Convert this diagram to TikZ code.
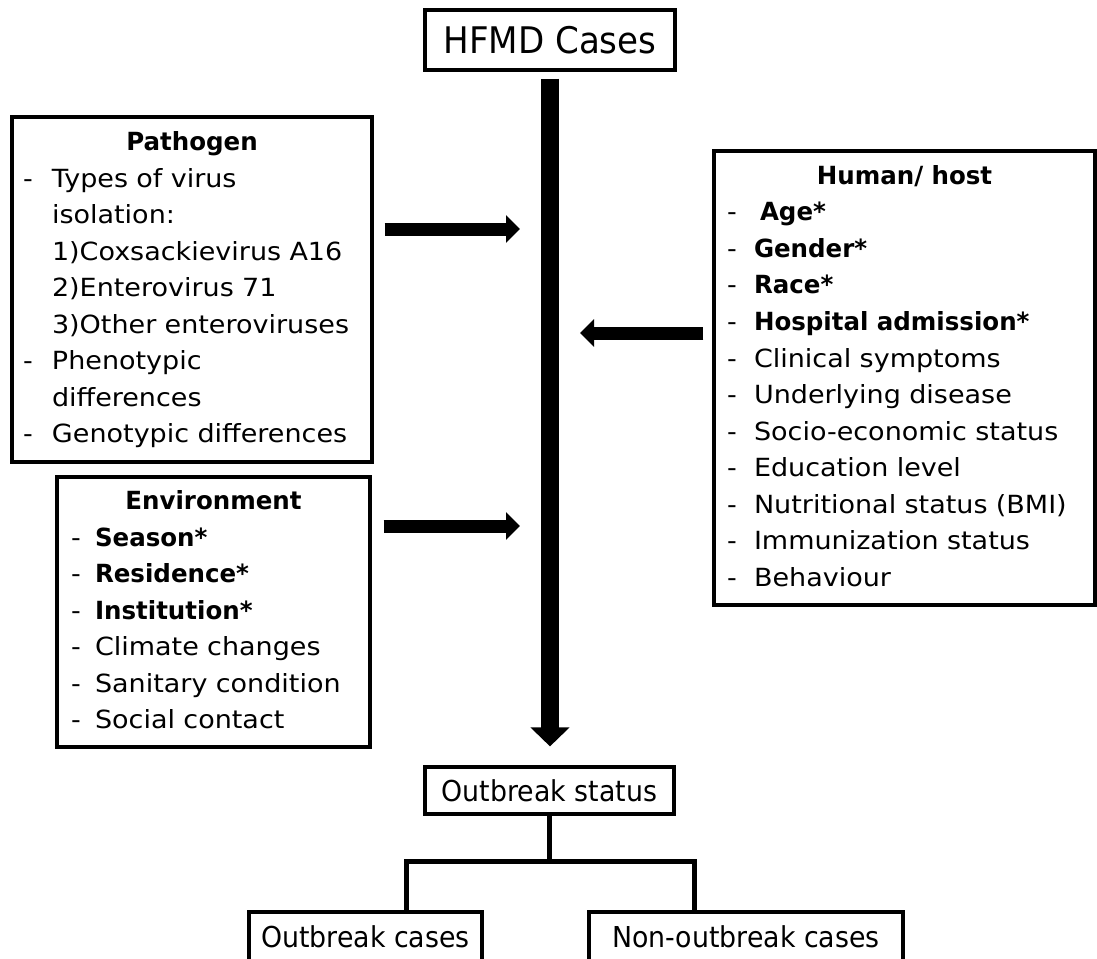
\documentclass[tikz,border=0pt]{standalone}
\usepackage{fontspec}
\setmainfont{DejaVu Sans}[FakeStretch=1.08, BoldFeatures={FakeStretch=0.98}]
\newfontfamily\condfont{DejaVu Sans}[FakeStretch=0.93]
\usetikzlibrary{arrows.meta,calc}

\newlength{\liindent}
\newcommand{\li}[1]{\makebox[\liindent][l]{-}#1}
\newcommand{\cont}[1]{\hspace*{\liindent}#1}
\newcommand{\boxtitle}[1]{\hfill\textbf{#1}\hfill\null}

\tikzset{
  factorbox/.style={draw, line width=2.6pt, align=left, inner ysep=0pt,
    font=\fontsize{18.75pt}{27.4pt}\selectfont,
    execute at begin node=\strut, execute at end node=\strut},
  casebox/.style={draw, line width=2.4pt, inner sep=0pt,
    font=\condfont\fontsize{21.6pt}{26pt}\selectfont},
  sidearrow/.style={line width=9.75pt, -{Triangle[width=20.25pt,length=10.5pt]}},
  mainarrow/.style={line width=14pt, -{Triangle[width=28.5pt,length=14.25pt]}},
  treeline/.style={line width=3.4pt, line join=miter}
}

\begin{document}
\begin{tikzpicture}[x=0.75pt,y=0.75pt,yscale=-1,xscale=1]
\useasboundingbox (0,0) rectangle (1097,958);

% case boxes
\node[casebox, minimum width=187.5pt, minimum height=45pt,
  font=\condfont\fontsize{27.5pt}{33pt}\selectfont] (cases) at (550,40) {HFMD Cases};
\node[casebox, minimum width=186.75pt, minimum height=35.25pt] (status) at (549.5,790.5) {Outbreak status};
\node[casebox, minimum width=174.75pt, minimum height=37.5pt] (outbreak) at (365.5,937) {Outbreak cases};
\node[casebox, minimum width=235.5pt, minimum height=37.5pt] (nonoutbreak) at (746,937) {Non-outbreak cases};

% factor boxes
\node[factorbox, text width=253.5pt, inner xsep=8.25pt, minimum height=258.75pt] (pathogen) at (192,289.5) {%
\setlength{\liindent}{21.75pt}\boxtitle{Pathogen}\\
\li{Types of virus}\\
\cont{isolation:}\\
\cont{1)Coxsackievirus A16}\\
\cont{2)Enterovirus 71}\\
\cont{3)Other enteroviruses}\\
\li{Phenotypic}\\
\cont{differences}\\
\li{Genotypic differences}};

\node[factorbox, text width=266.25pt, inner xsep=9.75pt, minimum height=340.5pt] (host) at (904.5,378) {%
\setlength{\liindent}{20.25pt}\boxtitle{Human/ host}\\
\li{\hspace{4.5pt}\textbf{Age*}}\\
\li{\textbf{Gender*}}\\
\li{\textbf{Race*}}\\
\li{\textbf{Hospital admission*}}\\
\li{Clinical symptoms}\\
\li{Underlying disease}\\
\li{Socio-economic status}\\
\li{Education level}\\
\li{Nutritional status (BMI)}\\
\li{Immunization status}\\
\li{Behaviour}};

\node[factorbox, text width=213.75pt, inner xsep=10.5pt, minimum height=202.5pt] (env) at (213.5,612) {%
\setlength{\liindent}{18pt}\boxtitle{Environment}\\
\li{\textbf{Season*}}\\
\li{\textbf{Residence*}}\\
\li{\textbf{Institution*}}\\
\li{Climate changes}\\
\li{Sanitary condition}\\
\li{Social contact}};

% main bar
\draw[mainarrow, shorten <=5.25pt, shorten >=14.25pt] (cases.south) -- (cases.south |- status.north);

% side arrows
\coordinate (pathin) at (520,229);
\coordinate (hostin) at (580,333);
\coordinate (envin) at (520,526);
\draw[sidearrow] ($(pathogen.east |- pathin)+(11,0)$) -- (pathin);
\draw[sidearrow] ($(host.west |- hostin)+(-9,0)$) -- (hostin);
\draw[sidearrow] ($(env.east |- envin)+(12,0)$) -- (envin);

% outbreak split
\draw[treeline] (status.south) -- ++(0,46) coordinate (fork);
\draw[treeline] ($(outbreak.north west)+(159,0)$) |- (fork) -| ($(nonoutbreak.north west)+(107,0)$);

\end{tikzpicture}
\end{document}
